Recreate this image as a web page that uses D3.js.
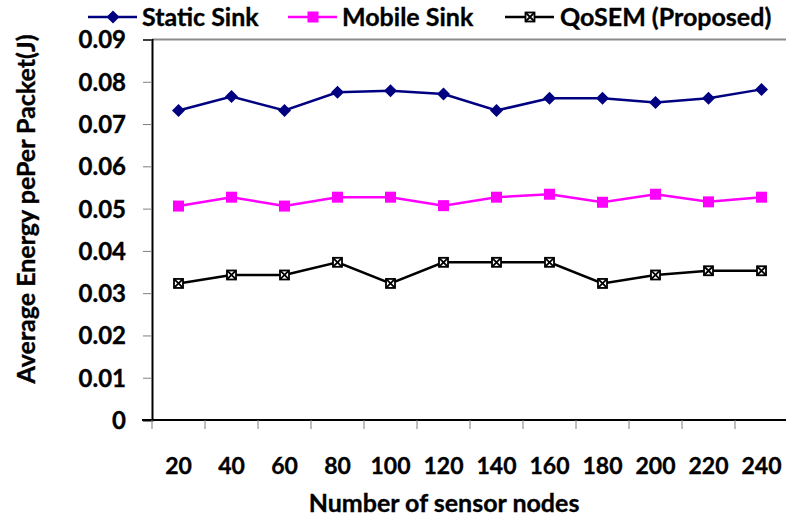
<!DOCTYPE html>
<html>
<head>
<meta charset="utf-8">
<script src="https://cdn.jsdelivr.net/npm/d3@7/dist/d3.min.js"></script>
<style>
  html, body { margin: 0; padding: 0; background: #fff; }
  svg { display: block; }
  text { font-family: Lato, "Open Sans", sans-serif; font-weight: bold; fill: #000; stroke: #000; stroke-width: 0.35px; }
</style>
</head>
<body>
<svg id="chart" width="786" height="520"></svg>
<script>
// Sensor-node counts along the x axis
const nodes = [20, 40, 60, 80, 100, 120, 140, 160, 180, 200, 220, 240];

// Average energy per packet (J) for each approach
const staticSink = [0.0732, 0.0765, 0.0732, 0.0775, 0.0779, 0.0771, 0.0732, 0.0761, 0.0761, 0.0751, 0.0761, 0.0782];
const mobileSink = [0.0506, 0.0527, 0.0506, 0.0527, 0.0527, 0.0507, 0.0527, 0.0534, 0.0515, 0.0534, 0.0516, 0.0527];
const qosem      = [0.0323, 0.0343, 0.0343, 0.0373, 0.0323, 0.0373, 0.0373, 0.0373, 0.0323, 0.0343, 0.0353, 0.0353];

const yTicks = [0, 0.01, 0.02, 0.03, 0.04, 0.05, 0.06, 0.07, 0.08, 0.09];
const seriesNames = ["Static Sink", "Mobile Sink", "QoSEM (Proposed)"];

const series = [
  { name: seriesNames[0], values: staticSink, color: "#000080", marker: "diamond" },
  { name: seriesNames[1], values: mobileSink, color: "#FF00FF", marker: "square" },
  { name: seriesNames[2], values: qosem,      color: "#000000", marker: "xbox" }
];

const svg = d3.select("#chart");
const plot = { left: 152, right: 788, top: 39.5, bottom: 420 };

const x = d3.scaleBand().domain(nodes).range([plot.left, plot.right]);
const y = d3.scaleLinear().domain([0, 0.09]).range([plot.bottom, plot.top]);

// Plot-area top frame
svg.append("line")
  .attr("x1", plot.left).attr("x2", plot.right)
  .attr("y1", plot.top).attr("y2", plot.top)
  .attr("stroke", "#8c8c8c").attr("stroke-width", 2);

// Y axis
const yAxis = svg.append("g").attr("transform", `translate(${plot.left},0)`)
  .call(d3.axisLeft(y).tickValues(yTicks)
    .tickFormat(d => d === 0 ? "0" : d3.format(".2f")(d))
    .tickSize(9).tickPadding(17));
yAxis.select(".domain").attr("stroke", "#000").attr("stroke-width", 2);
yAxis.selectAll(".tick line").attr("stroke", "#7f7f7f").attr("stroke-width", 1);
yAxis.selectAll("text").style("font-size", "24px").attr("dy", "0.35em");

// X axis: category boundaries get tick marks, labels sit at band centres
const xAxisG = svg.append("g").attr("transform", `translate(0,${plot.bottom})`);
xAxisG.append("line")
  .attr("x1", plot.left - 10).attr("x2", plot.right)
  .attr("stroke", "#000").attr("stroke-width", 2);
const bounds = nodes.map(n => x(n)).concat([plot.right]);
xAxisG.selectAll("line.tk").data(bounds).join("line").attr("class", "tk")
  .attr("x1", d => d).attr("x2", d => d).attr("y1", 0).attr("y2", 9)
  .attr("stroke", "#7f7f7f").attr("stroke-width", 1);
xAxisG.selectAll("text.lbl").data(nodes).join("text").attr("class", "lbl")
  .attr("x", d => x(d) + x.bandwidth() / 2).attr("y", 46)
  .attr("dy", "0.35em").attr("text-anchor", "middle")
  .style("font-size", "23px").text(d => d);

// Axis titles
svg.append("text")
  .attr("x", 444).attr("y", 503).attr("dy", "0.35em")
  .attr("text-anchor", "middle").style("font-size", "25px")
  .text("Number of sensor nodes");
svg.append("text")
  .attr("transform", "translate(26,209) rotate(-90)")
  .attr("dy", "0.35em").attr("text-anchor", "middle").style("font-size", "25px")
  .text("Average Energy pePer Packet(J)");

// Marker drawing
function drawMarker(g, type, color) {
  if (type === "diamond") {
    g.append("path").attr("d", "M0,-6.5L6.5,0L0,6.5L-6.5,0Z").attr("fill", color);
  } else if (type === "square") {
    g.append("rect").attr("x", -5.5).attr("y", -5.5).attr("width", 11).attr("height", 11).attr("fill", color);
  } else {
    g.append("rect").attr("x", -4.5).attr("y", -4.5).attr("width", 9).attr("height", 9)
      .attr("fill", "#fff").attr("stroke", color).attr("stroke-width", 1.8);
    g.append("path").attr("d", "M-4.5,-4.5L4.5,4.5M4.5,-4.5L-4.5,4.5")
      .attr("stroke", color).attr("stroke-width", 1.8);
  }
}

const line = d3.line()
  .x((d, i) => x(nodes[i]) + x.bandwidth() / 2)
  .y(d => y(d));

series.forEach(s => {
  svg.append("path").datum(s.values)
    .attr("d", line).attr("fill", "none")
    .attr("stroke", s.color).attr("stroke-width", 2.5);
  s.values.forEach((v, i) => {
    const g = svg.append("g")
      .attr("transform", `translate(${x(nodes[i]) + x.bandwidth() / 2},${y(v)})`);
    drawMarker(g, s.marker, s.color);
  });
});

// Legend
const legendItems = [
  { lx: 88, tx: 142 },
  { lx: 288, tx: 342 },
  { lx: 505, tx: 560 }
];
series.forEach((s, i) => {
  const L = legendItems[i];
  const g = svg.append("g").attr("transform", `translate(0,17)`);
  g.append("line").attr("x1", L.lx).attr("x2", L.lx + 49)
    .attr("stroke", s.color).attr("stroke-width", 2.5);
  drawMarker(g.append("g").attr("transform", `translate(${L.lx + 25},0)`), s.marker, s.color);
  g.append("text").attr("x", L.tx).attr("dy", "0.35em")
    .style("font-size", "25px").text(s.name);
});
</script>
</body>
</html>
